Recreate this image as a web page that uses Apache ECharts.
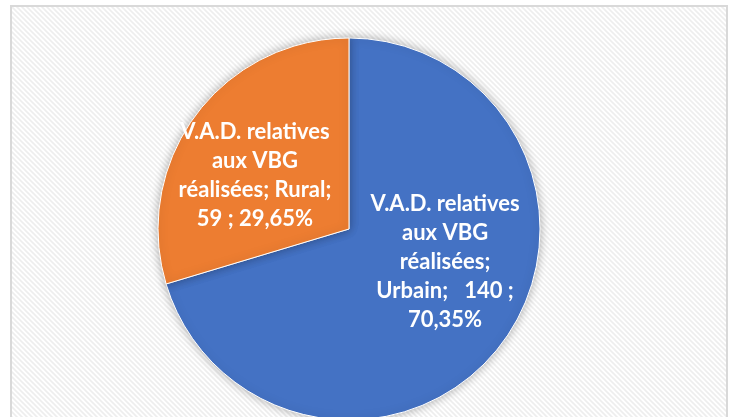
<!DOCTYPE html>
<html>
<head>
<meta charset="utf-8">
<script src="https://cdn.jsdelivr.net/npm/echarts@6/dist/echarts.min.js"></script>
<style>
html, body { margin: 0; padding: 0; background: #fff; }
#chart { width: 737px; height: 417px; }
</style>
</head>
<body>
<div id="chart"></div>
<script>
var seriesName = 'V.A.D. relatives aux VBG réalisées';
var categories = ['Urbain', 'Rural'];
var values = [140, 59];
var colors = ['#4472C4', '#ED7D31'];

// hatched background tile
var tile = document.createElement('canvas');
tile.width = 5; tile.height = 5;
var ctx = tile.getContext('2d');
ctx.fillStyle = '#ffffff';
ctx.fillRect(0, 0, 5, 5);
ctx.strokeStyle = '#eeeeee';
ctx.lineWidth = 1.6;
ctx.beginPath();
ctx.moveTo(-2, -2); ctx.lineTo(7, 7);
ctx.moveTo(-5, 0); ctx.lineTo(2, 7);
ctx.moveTo(0, -5); ctx.lineTo(7, 2);
ctx.stroke();

var total = values.reduce(function (a, b) { return a + b; }, 0);
var pct = function (v) { return (v / total * 100).toFixed(2).replace('.', ',') + '%'; };

var labelText = {
    'Urbain': function (p) { return 'V.A.D. relatives\naux VBG\nréalisées;\n' + p.name + ';   ' + p.value + ' ;\n' + pct(p.value); },
    'Rural': function (p) { return 'V.A.D. relatives\naux VBG\nréalisées; ' + p.name + ';\n' + p.value + ' ; ' + pct(p.value); }
};
var labelShift = { 'Urbain': [17, -26], 'Rural': [-15, 5] };

var chart = echarts.init(document.getElementById('chart'));
var option = {
    animation: false,
    graphic: [{
        type: 'rect',
        z: -10,
        shape: { x: 11, y: 6, width: 716, height: 420 },
        style: { fill: { image: tile, repeat: 'repeat' }, stroke: '#d9d9d9', lineWidth: 2 }
    }],
    color: colors,
    series: [{
        name: seriesName,
        type: 'pie',
        center: [349, 229],
        radius: 191,
        startAngle: 90,
        clockwise: true,
        itemStyle: {
            borderColor: '#ffffff',
            borderWidth: 1,
            shadowBlur: 10,
            shadowColor: 'rgba(0,0,0,0.3)'
        },
        label: {
            show: true,
            position: 'inside',
            color: '#ffffff',
            fontFamily: 'Lato',
            fontWeight: 'bold',
            fontSize: 22,
            lineHeight: 29,
            align: 'center',
            formatter: function (p) { return labelText[p.name](p); }
        },
        labelLine: { show: false },
        labelLayout: function (params) {
            var name = categories[params.dataIndex];
            return { dx: labelShift[name][0], dy: labelShift[name][1] };
        },
        emphasis: { disabled: true },
        data: categories.map(function (c, i) { return { name: c, value: values[i] }; })
    }]
};
chart.setOption(option);
</script>
</body>
</html>
